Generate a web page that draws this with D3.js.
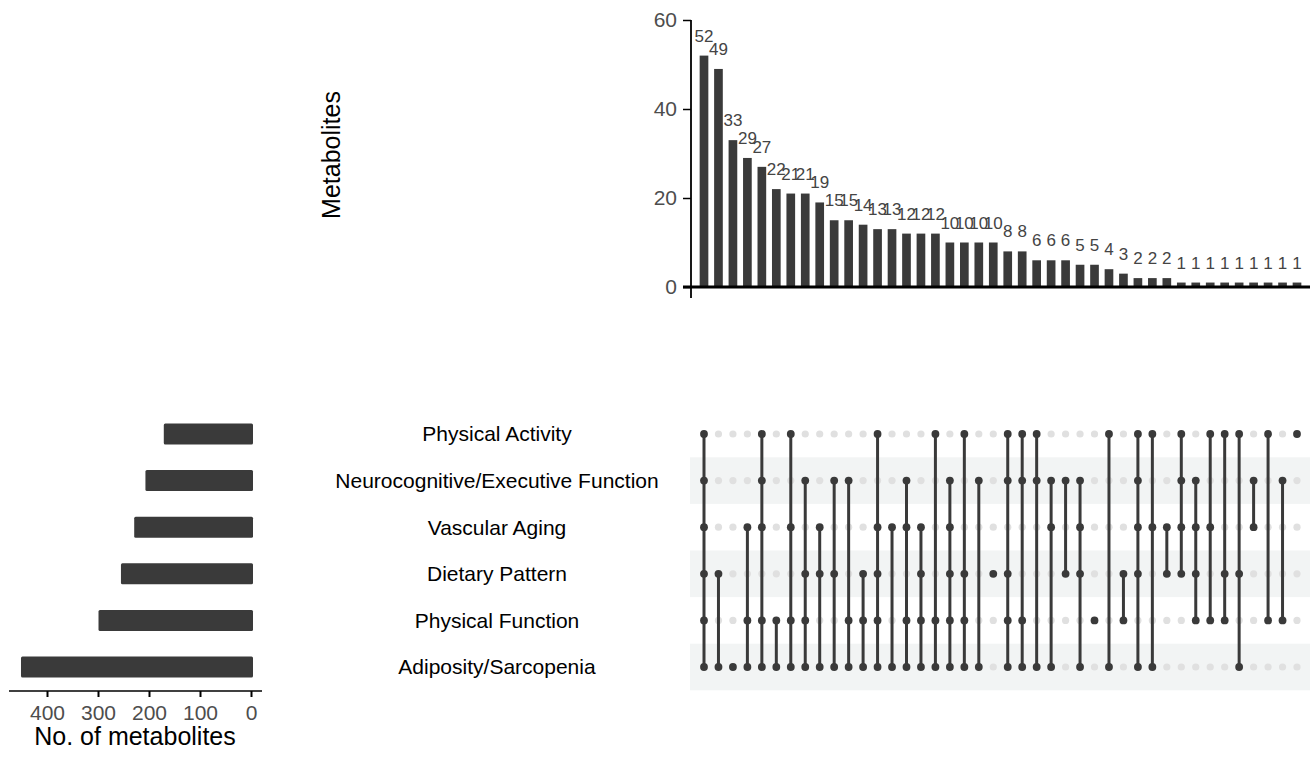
<!DOCTYPE html>
<html>
<head>
<meta charset="utf-8">
<script src="https://cdn.jsdelivr.net/npm/d3@7"></script>
<style>
  html, body { margin: 0; padding: 0; background: #ffffff; }
  svg { display: block; font-family: "Liberation Sans", Arial, Helvetica, sans-serif; }
</style>
</head>
<body>
<svg id="chart" width="1316" height="758"></svg>
<script>
// ---------------- data ----------------
const setNames = ["Physical Activity", "Neurocognitive/Executive Function", "Vascular Aging",
                  "Dietary Pattern", "Physical Function", "Adiposity/Sarcopenia"];
const setCodes = ["A", "N", "V", "D", "F", "S"];
const setSizes = [171, 207, 229, 255, 299, 451];

const intersectionMembers = [
  "ANVDFS", "DS", "S", "VFS", "ANVFS", "FS", "AVFS", "NDFS", "VDS", "NDS",
  "NFS", "DFS", "AVDFS", "VS", "NVFS", "VDFS", "AFS", "NVDFS", "ADFS", "NS",
  "D", "ANDFS", "ANFS", "ANS", "NVS", "ND", "NVDS", "F", "AS", "DF",
  "ANVDS", "AVS", "VD", "ANVD", "NVDF", "AVF", "ADF", "ADS", "NV", "AF",
  "NF", "A"
];
const intersectionCounts = [
  52, 49, 33, 29, 27, 22, 21, 21, 19, 15,
  15, 14, 13, 13, 12, 12, 12, 10, 10, 10,
  10, 8, 8, 6, 6, 6, 5, 5, 4, 3,
  2, 2, 2, 1, 1, 1, 1, 1, 1, 1,
  1, 1
];
const topTicks = [0, 20, 40, 60];
const leftTicks = [0, 100, 200, 300, 400];

// ---------------- drawing ----------------
const svg = d3.select("#chart");
const dark = "#3a3a3a";
const tickGrey = "#4d4d4d";

const idx = d3.range(intersectionCounts.length);
const x = d3.scalePoint().domain(idx).range([704, 1297]);
const barW = x.step() * 0.6;

const yTop = d3.scaleLinear().domain([0, 60]).range([287, 20]);
const rowY = d3.scalePoint().domain(setNames).range([434, 667]);
const rowStep = rowY.step();
const xLeft = d3.scaleLinear().domain([0, 400]).range([251, 47]);

// ---- top bar chart ----
const gTop = svg.append("g");
gTop.selectAll("rect.bar").data(idx).join("rect")
  .attr("class", "bar")
  .attr("x", i => x(i) - barW / 2)
  .attr("width", barW)
  .attr("y", i => yTop(intersectionCounts[i]))
  .attr("height", i => yTop(0) - yTop(intersectionCounts[i]))
  .attr("fill", dark);

gTop.selectAll("text.lab").data(idx).join("text")
  .attr("class", "lab")
  .attr("x", i => x(i))
  .attr("y", i => yTop(intersectionCounts[i]) - 14)
  .attr("text-anchor", "middle")
  .attr("font-size", 17)
  .attr("fill", "#444")
  .text(i => intersectionCounts[i]);

// y axis
const yAxis = d3.axisLeft(yTop).tickValues(topTicks).tickSize(8).tickPadding(6);
const gYA = svg.append("g").attr("transform", "translate(691,0)").call(yAxis);
gYA.select(".domain").remove();
gYA.selectAll(".tick line").attr("stroke", "#000").attr("stroke-width", 1.5);
gYA.selectAll(".tick text").attr("font-size", 21).attr("fill", tickGrey)
  .attr("font-family", "Liberation Sans, Arial, sans-serif");
svg.append("line").attr("x1", 691).attr("x2", 691).attr("y1", yTop(60)).attr("y2", 298)
  .attr("stroke", "#000").attr("stroke-width", 1.8);
// baseline
svg.append("line").attr("x1", 683).attr("x2", 1310).attr("y1", yTop(0)).attr("y2", yTop(0))
  .attr("stroke", "#000").attr("stroke-width", 3);

svg.append("text")
  .attr("transform", "translate(340,155) rotate(-90)")
  .attr("text-anchor", "middle")
  .attr("font-size", 25)
  .attr("fill", "#000")
  .text("Metabolites");

// ---- matrix ----
const gM = svg.append("g");
gM.selectAll("rect.stripe").data(setNames.filter((d, i) => i % 2 === 1)).join("rect")
  .attr("class", "stripe")
  .attr("x", 690)
  .attr("width", 620)
  .attr("y", d => rowY(d) - rowStep / 2)
  .attr("height", rowStep)
  .attr("fill", "#f2f4f4");

const cells = [];
idx.forEach(i => setNames.forEach((s, j) => {
  cells.push({ i, s, on: intersectionMembers[i].includes(setCodes[j]) });
}));
gM.selectAll("circle.bg").data(cells.filter(c => !c.on)).join("circle")
  .attr("class", "bg")
  .attr("cx", c => x(c.i))
  .attr("cy", c => rowY(c.s))
  .attr("r", 3.6)
  .attr("fill", "#e0e0e0");

gM.selectAll("line.conn").data(idx).join("line")
  .attr("class", "conn")
  .attr("x1", i => x(i)).attr("x2", i => x(i))
  .attr("y1", i => d3.min(setNames.filter((s, j) => intersectionMembers[i].includes(setCodes[j])), s => rowY(s)))
  .attr("y2", i => d3.max(setNames.filter((s, j) => intersectionMembers[i].includes(setCodes[j])), s => rowY(s)))
  .attr("stroke", dark)
  .attr("stroke-width", 3);

gM.selectAll("circle.on").data(cells.filter(c => c.on)).join("circle")
  .attr("class", "on")
  .attr("cx", c => x(c.i))
  .attr("cy", c => rowY(c.s))
  .attr("r", 3.9)
  .attr("fill", dark);

// set labels
svg.selectAll("text.setname").data(setNames).join("text")
  .attr("class", "setname")
  .attr("x", 497)
  .attr("y", d => rowY(d))
  .attr("dy", "0.35em")
  .attr("text-anchor", "middle")
  .attr("font-size", 21)
  .attr("fill", "#000")
  .text(d => d);

// ---- left set-size bars ----
svg.selectAll("rect.setbar").data(setNames).join("rect")
  .attr("class", "setbar")
  .attr("x", (d, j) => xLeft(setSizes[j]))
  .attr("width", (d, j) => xLeft(0) + 2 - xLeft(setSizes[j]))
  .attr("y", d => rowY(d) - 10.5)
  .attr("height", 21)
  .attr("rx", 1.5)
  .attr("fill", dark);

const lAxis = d3.axisBottom(xLeft).tickValues(leftTicks).tickSize(6).tickPadding(8);
const gLA = svg.append("g").attr("transform", "translate(0,691)").call(lAxis);
gLA.select(".domain").remove();
gLA.selectAll(".tick line").attr("stroke", "#000").attr("stroke-width", 2);
gLA.selectAll(".tick text").attr("font-size", 21).attr("fill", tickGrey)
  .attr("font-family", "Liberation Sans, Arial, sans-serif");
svg.append("line").attr("x1", 9).attr("x2", 262).attr("y1", 691).attr("y2", 691)
  .attr("stroke", "#000").attr("stroke-width", 1.5);

svg.append("text")
  .attr("x", 135).attr("y", 745)
  .attr("text-anchor", "middle")
  .attr("font-size", 25)
  .attr("fill", "#000")
  .text("No. of metabolites");
</script>
</body>
</html>
